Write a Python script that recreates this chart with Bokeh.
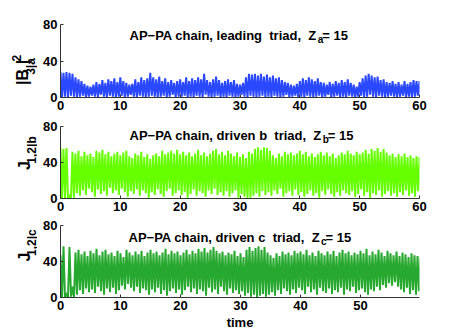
import numpy as np
from math import pi
from bokeh.plotting import figure
from bokeh.layouts import column, row
from bokeh.models import Label, FixedTicker
from bokeh.embed import file_html
from bokeh.resources import INLINE

# ------------- data: successive peaks (hi) and troughs (lo), every 0.5 time units -------------
dt = 0.5
hi1 = [28, 27, 28, 27, 26, 22, 20, 18, 15, 13,
       12, 14, 17, 15, 19, 16, 20, 18, 21, 17,
       22, 18, 16, 14, 15, 20, 17, 22, 19, 21,
       27, 22, 20, 23, 18, 21, 17, 19, 16, 18,
       20, 17, 22, 18, 21, 19, 22, 20, 26, 19,
       17, 20, 23, 19, 16, 18, 20, 17, 19, 15,
       14, 16, 22, 26, 25, 26, 24, 26, 23, 25,
       22, 24, 21, 22, 19, 17, 16, 14, 13, 15,
       18, 21, 19, 22, 20, 18, 21, 17, 16, 14,
       17, 15, 18, 16, 19, 17, 20, 16, 14, 12,
       17, 21, 24, 26, 24, 22, 23, 19, 20, 17,
       16, 18, 15, 17, 14, 18, 15, 17, 19, 18,
       18]
lo1 = [0, 1, 0, 2, 1, 0, 1, 2, 0, 1,
       2, 1, 0, 3, 1, 0, 2, 1, 0, 1,
       2, 0, 1, 3, 1, 0, 2, 1, 0, 1,
       2, 1, 0, 1, 2, 0, 1, 3, 0, 1,
       1, 2, 0, 1, 0, 2, 1, 0, 3, 1,
       0, 1, 2, 0, 1, 0, 2, 1, 0, 1,
       3, 1, 0, 2, 1, 0, 1, 2, 0, 1,
       0, 2, 1, 0, 1, 3, 0, 1, 2, 0,
       1, 0, 2, 1, 0, 1, 2, 0, 1, 3,
       0, 1, 2, 0, 1, 0, 2, 1, 0, 1,
       2, 0, 1, 3, 1, 0, 2, 1, 0, 1,
       2, 1, 0, 1, 2, 0, 1, 0, 1, 2,
       1]
hi2 = [57, 55, 56, 4, 52, 50, 53, 47, 52, 48,
       50, 46, 53, 51, 54, 49, 52, 47, 50, 52,
       48, 51, 53, 47, 45, 50, 48, 52, 46, 49,
       44, 48, 50, 47, 53, 49, 51, 53, 50, 54,
       49, 52, 48, 51, 47, 50, 54, 48, 51, 47,
       50, 53, 55, 49, 52, 48, 53, 50, 47, 51,
       46, 49, 45, 52, 50, 55, 57, 54, 57, 56,
       53, 48, 45, 50, 47, 52, 49, 51, 48, 50,
       53, 49, 52, 47, 50, 46, 49, 52, 48, 51,
       47, 50, 45, 48, 51, 49, 53, 50, 48, 52,
       49, 51, 54, 50, 55, 53, 56, 52, 55, 51,
       48, 50, 46, 49, 47, 50, 46, 48, 45, 47,
       46]
lo2 = [0, 0, 0, 0, 1, 6, 3, 9, 4, 11,
       7, 2, 10, 5, 8, 3, 12, 6, 9, 4,
       11, 7, 2, 8, 5, 10, 3, 9, 6, 1,
       7, 4, 10, 5, 2, 8, 11, 3, 6, 9,
       4, 7, 1, 5, 10, 3, 8, 6, 2, 9,
       5, 11, 4, 7, 3, 8, 2, 6, 9, 1,
       5, 2, 0, 1, 3, 6, 2, 8, 4, 7,
       3, 9, 5, 11, 2, 6, 8, 3, 10, 4,
       7, 2, 5, 9, 3, 6, 1, 8, 4, 10,
       5, 2, 7, 3, 9, 6, 4, 8, 2, 5,
       10, 3, 7, 1, 6, 4, 9, 2, 5, 8,
       3, 6, 2, 7, 4, 9, 3, 6, 2, 8,
       5]
hi3 = [47, 57, 5, 56, 12, 50, 53, 48, 51, 46,
       52, 49, 54, 47, 51, 53, 48, 50, 46, 52,
       49, 45, 53, 50, 47, 51, 48, 52, 46, 50,
       53, 49, 51, 47, 50, 54, 48, 52, 49, 51,
       47, 50, 53, 48, 52, 49, 54, 51, 55, 50,
       53, 56, 52, 49, 51, 47, 50, 48, 52, 46,
       49, 45, 53, 56, 52, 55, 57, 53, 56, 50,
       47, 44, 49, 46, 51, 48, 50, 47, 52, 49,
       51, 48, 53, 47, 50, 46, 52, 49, 47, 51,
       48, 52, 46, 50, 53, 49, 51, 47, 50, 48,
       52, 49, 54, 47, 51, 48, 53, 50, 46, 52,
       49, 47, 51, 46, 50, 48, 45, 49, 47, 46,
       45]
lo3 = [0, 0, 0, 1, 0, 3, 8, 4, 10, 6,
       9, 5, 12, 7, 3, 10, 6, 11, 4, 8,
       13, 9, 15, 11, 7, 12, 5, 10, 8, 3,
       9, 6, 11, 4, 8, 2, 7, 10, 5, 9,
       3, 8, 12, 6, 10, 4, 9, 7, 2, 11,
       6, 9, 4, 12, 7, 3, 10, 5, 8, 4,
       7, 2, 5, 1, 3, 0, 2, 4, 1, 3,
       6, 2, 8, 4, 10, 7, 3, 9, 5, 11,
       8, 4, 12, 6, 9, 3, 11, 7, 5, 10,
       4, 8, 6, 11, 3, 9, 7, 12, 5, 8,
       10, 6, 3, 9, 7, 12, 8, 14, 11, 16,
       13, 17, 12, 9, 6, 11, 4, 8, 3, 7,
       5]

y_ticks = [0, 40, 80]
x_ticks_full = [0, 10, 20, 30, 40, 50, 60]
x_ticks_last = [0, 10, 20, 30, 40, 50]

FONT = "Liberation Sans"
NB = "\u00a0"
WIDTHS = {' ': .278, NB: .278, ',': .278, '|': .280, '\u2212': .584, '=': .584, 'A': .722,
          'P': .667, 'B': .722, 'J': .556, 'Z': .611, 'c': .556, 'h': .611, 'a': .556,
          'i': .278, 'n': .611, 'l': .278, 'e': .556, 'd': .611, 'g': .611, 't': .333,
          'r': .389, 'v': .556, 'b': .611}

LAB_W = 37          # width of the strip that holds each rotated y label
FRAME_LEFT = 60     # page x of the plot frame's left edge


def text_width(s, size):
    return sum(WIDTHS.get(ch, .556) for ch in s) * size


def make_panel(hi, lo, color, xend, xticks, top, bottom, height):
    p = figure(width=463 - LAB_W, height=height, x_range=(0, xend), y_range=(0, 80),
               output_backend="svg", toolbar_location=None,
               min_border_left=FRAME_LEFT - LAB_W, min_border_right=44,
               min_border_top=top, min_border_bottom=bottom)
    p.xgrid.visible = False
    p.ygrid.visible = False
    p.outline_line_color = None
    # signal: peaks and troughs alternate
    y = np.empty(2 * len(hi))
    y[0::2] = hi
    y[1::2] = lo
    t = np.arange(len(y)) * dt / 2
    p.line(t, y, line_color=color, line_width=2.0)
    for ax in (p.xaxis[0], p.yaxis[0]):
        ax.axis_line_color = "#333333"
        ax.major_tick_line_color = "#333333"
        ax.major_tick_in = 3
        ax.major_tick_out = 0
        ax.minor_tick_line_color = None
        ax.major_label_text_font = FONT
        ax.major_label_text_font_style = "bold"
        ax.major_label_text_font_size = "13px"
        ax.major_label_text_color = "black"
    p.xaxis.ticker = FixedTicker(ticks=xticks)
    p.yaxis.ticker = FixedTicker(ticks=y_ticks)
    p.xaxis.major_label_standoff = 3
    p.yaxis.major_label_standoff = 3
    return p


def add_title(p, main, sub, tail, x_start_page, base_below_top):
    size, ssize = 13, 10
    pieces = [(main, size, 0), (sub, ssize, -4), (tail, size, 0)]
    x = x_start_page - FRAME_LEFT
    for txt, sz, dy in pieces:
        p.add_layout(Label(x=0, y=80, x_offset=x, y_offset=-base_below_top + dy, text=txt,
                           text_font=FONT, text_font_style="bold",
                           text_font_size=f"{sz}px", text_align="left",
                           text_baseline="alphabetic", text_color="black"))
        x += text_width(txt, sz) - (1 if sz == ssize else 0)


def label_strip(height, pieces, start_y_from_top):
    """A narrow frame-only figure holding a rotated y label made of pieces
    (text, size, centre_x) that read from bottom to top."""
    s = figure(width=LAB_W, height=height, x_range=(0, LAB_W), y_range=(0, height),
               output_backend="svg", toolbar_location=None,
               min_border_left=0, min_border_right=0, min_border_top=0, min_border_bottom=0)
    s.axis.visible = False
    s.grid.visible = False
    s.outline_line_color = None
    yy = height - start_y_from_top
    for txt, sz, cx in pieces:
        s.add_layout(Label(x=cx, y=yy, text=txt, angle=pi / 2,
                           text_font=FONT, text_font_style="bold",
                           text_font_size=f"{sz}px", text_align="left",
                           text_baseline="middle", text_color="black"))
        yy += text_width(txt, sz)
    return s


H1, H2, H3 = 116, 101, 116
p1 = make_panel(hi1, lo1, "#2a48ff", 60, x_ticks_full, 24, 19, H1)
p2 = make_panel(hi2, lo2, "#66ff00", 60, x_ticks_full, 10, 19, H2)
p3 = make_panel(hi3, lo3, "#27a82e", 59.83, x_ticks_last, 8, 36, H3)

add_title(p1, f"AP\u2212PA chain, leading{NB}{NB}triad,{NB}{NB}Z", "a", "= 15", 129, 11)
add_title(p2, f"AP\u2212PA chain, driven b{NB}{NB}triad,{NB}{NB}Z", "b", "= 15", 129, 9)
add_title(p3, f"AP\u2212PA chain, driven c{NB}{NB}triad,{NB}{NB}Z", "c", "= 15", 128, 12)

p3.xaxis.axis_label = "time"
p3.xaxis.axis_label_text_font = FONT
p3.xaxis.axis_label_text_font_style = "bold"
p3.xaxis.axis_label_text_font_size = "13px"
p3.xaxis.axis_label_text_color = "black"
p3.xaxis.axis_label_standoff = 2

s1 = label_strip(H1, [("|B", 16, 22), ("3|a", 12, 30), ("|", 16, 22), ("2", 12, 16)], 96)
s2 = label_strip(H2, [("J", 16, 24), ("1,2|b", 12, 31)], 177 - H1)
s3 = label_strip(H3, [("J", 16, 24), ("1,2|c", 12, 31)], 275 - H1 - H2)

layout = column(row(s1, p1), row(s2, p2), row(s3, p3))
open("out.html", "w").write(file_html(layout, INLINE))
